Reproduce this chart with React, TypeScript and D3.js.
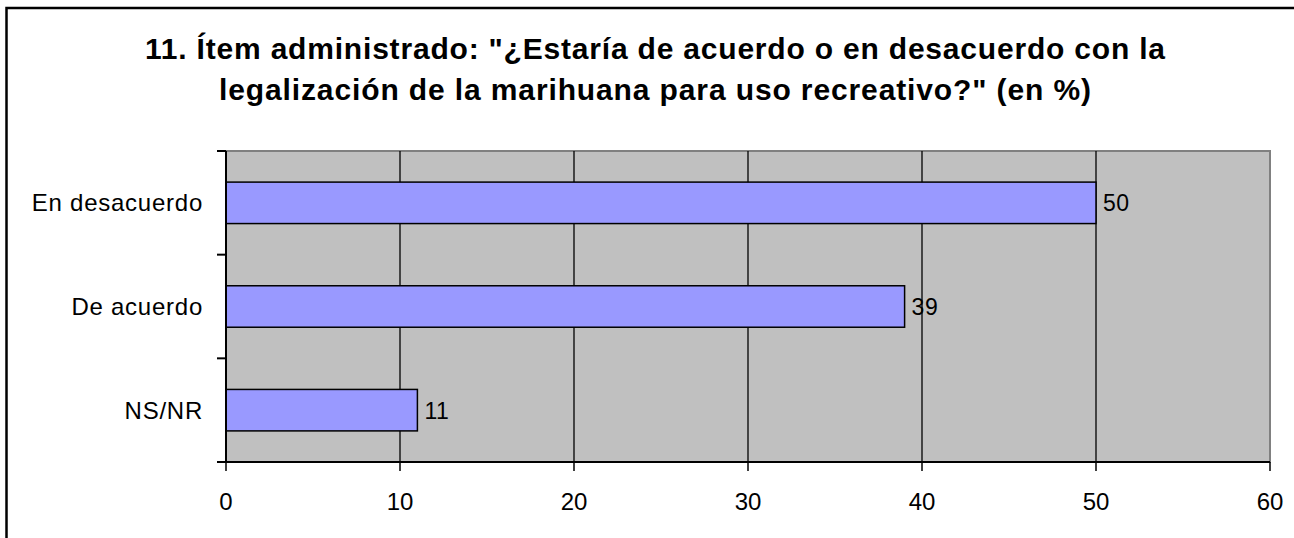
import { useEffect } from "react";
import * as d3 from "d3";

// chart values
const TITLE_LINES = [
  '11. Ítem administrado: "¿Estaría de acuerdo o en desacuerdo con la',
  'legalización de la marihuana para uso recreativo?" (en %)',
];
// measured widths of the two title lines in the reference
const TITLE_WIDTHS = [1020, 872];
const CATEGORIES = ["En desacuerdo", "De acuerdo", "NS/NR"];
const VALUES = [50, 39, 11];
const X_TICKS = [0, 10, 20, 30, 40, 50, 60];

const W = 1294;
const H = 538;
const PLOT = { left: 226, right: 1270, top: 151, bottom: 462 };
const FONT = "'Liberation Sans', Arial, sans-serif";

export default function App() {
  useEffect(() => {
    document.body.style.margin = "0";
  }, []);

  const x = d3.scaleLinear().domain([0, 60]).range([PLOT.left, PLOT.right]);
  const y = d3
    .scaleBand<string>()
    .domain(CATEGORIES)
    .range([PLOT.top, PLOT.bottom])
    .paddingInner(0.6)
    .paddingOuter(0.3);
  const band = d3.scaleBand<string>().domain(CATEGORIES).range([PLOT.top, PLOT.bottom]);
  const boundaries = [...CATEGORIES.map((c) => band(c)!), PLOT.bottom];

  return (
    <svg width={W} height={H} style={{ display: "block" }} fontFamily={FONT}>
      <rect x={0} y={0} width={W} height={H} fill="#fff" />
      {/* outer chart frame, right/bottom run off the picture */}
      <rect x={6.5} y={8} width={W + 20} height={H + 20} fill="#fff" stroke="#000" strokeWidth={2.5} />

      {TITLE_LINES.map((t, i) => (
        <text
          key={i}
          x={655}
          y={59 + i * 41}
          textAnchor="middle"
          fontSize={30}
          fontWeight="bold"
          fill="#000"
          textLength={TITLE_WIDTHS[i]}
          lengthAdjust="spacing"
        >
          {t}
        </text>
      ))}

      {/* plot area */}
      <rect
        x={PLOT.left}
        y={PLOT.top}
        width={PLOT.right - PLOT.left}
        height={PLOT.bottom - PLOT.top}
        fill="#c0c0c0"
        stroke="#808080"
        strokeWidth={2}
      />
      {X_TICKS.filter((d) => d > 0 && d < 60).map((d) => (
        <line key={d} x1={x(d)} x2={x(d)} y1={PLOT.top} y2={PLOT.bottom} stroke="#000" strokeWidth={1.3} />
      ))}

      {/* bars */}
      {CATEGORIES.map((c, i) => (
        <g key={c}>
          <rect
            x={x(0)}
            y={y(c)}
            width={x(VALUES[i]) - x(0)}
            height={y.bandwidth()}
            fill="#9999ff"
            stroke="#000"
            strokeWidth={1.5}
          />
          <text
            x={x(VALUES[i]) + 7}
            y={y(c)! + y.bandwidth() / 2 + 8.5}
            fontSize={23}
            letterSpacing={0.5}
            fill="#000"
          >
            {VALUES[i]}
          </text>
          <text
            x={203}
            y={band(c)! + band.bandwidth() / 2 + 8.5}
            textAnchor="end"
            fontSize={24}
            letterSpacing={0.75}
            fill="#000"
          >
            {c}
          </text>
        </g>
      ))}

      {/* axes */}
      <line x1={PLOT.left} x2={PLOT.left} y1={PLOT.top} y2={PLOT.bottom} stroke="#000" strokeWidth={2} />
      {boundaries.map((b, i) => (
        <line key={i} x1={PLOT.left - 9} x2={PLOT.left} y1={b} y2={b} stroke="#000" strokeWidth={2} />
      ))}
      <line x1={PLOT.left - 9} x2={PLOT.right} y1={PLOT.bottom} y2={PLOT.bottom} stroke="#000" strokeWidth={2} />
      {X_TICKS.map((d) => (
        <g key={d}>
          <line x1={x(d)} x2={x(d)} y1={PLOT.bottom} y2={PLOT.bottom + 9} stroke="#000" strokeWidth={1.5} />
          <text x={x(d)} y={510} textAnchor="middle" fontSize={24} fill="#000">
            {d}
          </text>
        </g>
      ))}
    </svg>
  );
}
